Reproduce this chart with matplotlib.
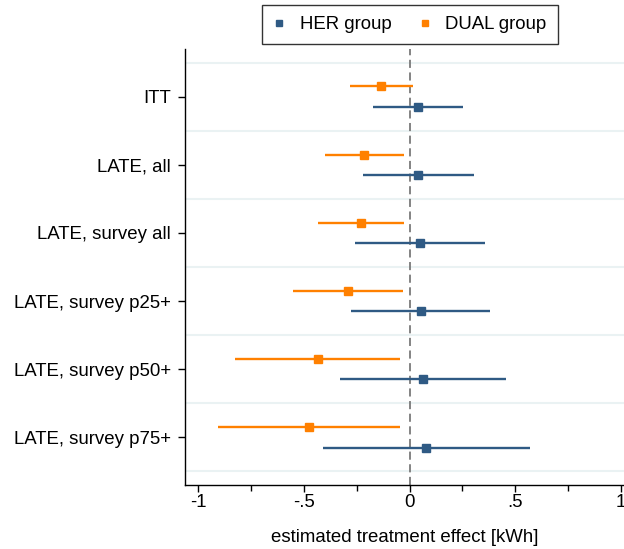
import numpy as np
import matplotlib.pyplot as plt

plt.rcParams['font.family'] = ['Liberation Sans', 'DejaVu Sans']

# estimates and 95% CIs
labels = ['ITT', 'LATE, all', 'LATE, survey all', 'LATE, survey p25+',
          'LATE, survey p50+', 'LATE, survey p75+']
her_est = [0.038, 0.042, 0.049, 0.052, 0.063, 0.077]
her_lo = [-0.174, -0.222, -0.259, -0.278, -0.330, -0.412]
her_hi = [0.251, 0.307, 0.358, 0.383, 0.457, 0.568]
dual_est = [-0.134, -0.215, -0.230, -0.293, -0.435, -0.477]
dual_lo = [-0.283, -0.402, -0.434, -0.554, -0.825, -0.906]
dual_hi = [0.017, -0.027, -0.027, -0.032, -0.044, -0.046]

blue = '#2f5a84'
orange = '#ff8000'
fs = 13.4

fig = plt.figure(figsize=(6.24, 5.49), dpi=100)
ax = fig.add_axes([185 / 624, 64 / 549, 439 / 624, 436 / 549])

y = np.arange(len(labels))
off = 0.15

# gridlines between categories
for g in np.arange(-0.5, len(labels), 1.0):
    ax.axhline(g, color='#eaf2f3', lw=1.5, zorder=0)
ax.axvline(0, color='#7a7a7a', lw=1.3, ls=(0, (4.5, 2.5)), zorder=1)

ax.hlines(y + off, her_lo, her_hi, color=blue, lw=1.7, zorder=2)
ax.plot(her_est, y + off, 's', color=blue, ms=5.5, zorder=3, label='HER group')
ax.hlines(y - off, dual_lo, dual_hi, color=orange, lw=1.7, zorder=2)
ax.plot(dual_est, y - off, 's', color=orange, ms=5.5, zorder=3, label='DUAL group')

ax.set_ylim(5.7, -0.7)
ax.set_xlim(-1.063, 1.015)
ax.set_yticks(y)
ax.set_yticklabels(labels, fontsize=fs)
ax.set_xticks([-1, -0.5, 0, 0.5, 1])
ax.set_xticklabels(['-1', '-.5', '0', '.5', '1'], fontsize=fs)
ax.set_xticks(np.arange(-0.75, 1.0, 0.5), minor=True)
ax.tick_params(axis='y', direction='out', length=5, width=1, pad=5)
ax.tick_params(axis='x', direction='out', length=5, width=1, pad=1.5)
ax.tick_params(axis='x', which='minor', length=4, width=1)
ax.set_xlabel('estimated treatment effect [kWh]', fontsize=fs, labelpad=13)

for s in ['top', 'right']:
    ax.spines[s].set_visible(False)
for s in ['left', 'bottom']:
    ax.spines[s].set_linewidth(1)

leg = fig.legend(loc='upper center', bbox_to_anchor=(410 / 624, 1 - 5 / 549),
                 borderaxespad=0, ncol=2, fontsize=fs, frameon=True,
                 fancybox=False, edgecolor='black', handlelength=0.6,
                 handletextpad=0.8, columnspacing=1.5, markerscale=0.8,
                 borderpad=0.6)
leg.get_frame().set_linewidth(1)

fig.savefig('out.png', dpi=100)
